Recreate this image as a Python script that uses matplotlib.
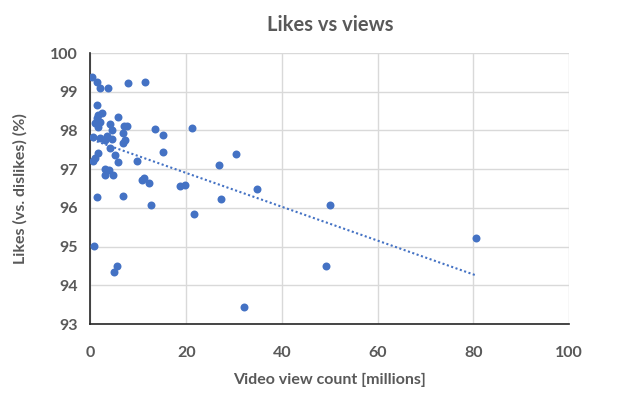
import numpy as np
import matplotlib.pyplot as plt

plt.rcParams['font.family'] = ['Lato', 'DejaVu Sans']

# video views (millions) and like ratio (%)
views = [0.42, 1.30, 2.09, 3.66, 7.77, 11.39, 1.30, 1.63, 2.51, 1.30,
         5.81, 1.99, 0.94, 4.08, 1.50, 7.06, 7.57, 4.43, 13.48, 21.11,
         0.59, 1.99, 3.03, 3.45, 4.49, 6.85, 7.31, 6.85, 4.08, 15.21,
         1.63, 0.94, 0.59, 5.12, 5.81, 9.66, 15.15, 30.47, 26.79, 3.03,
         3.82, 2.93, 4.70, 10.70, 11.18, 12.23, 18.70, 19.85, 34.86, 1.36,
         6.85, 12.75, 27.27, 21.63, 50.05, 0.73, 5.64, 4.91, 49.15, 32.02,
         80.56]
likes = [99.39, 99.25, 99.10, 99.10, 99.22, 99.25, 98.67, 98.40, 98.44, 98.32,
         98.35, 98.22, 98.18, 98.17, 98.10, 98.11, 98.11, 98.01, 98.03, 98.07,
         97.84, 97.80, 97.75, 97.86, 97.78, 97.93, 97.75, 97.67, 97.54, 97.87,
         97.41, 97.28, 97.22, 97.36, 97.19, 97.22, 97.45, 97.40, 97.11, 97.00,
         96.99, 96.86, 96.85, 96.72, 96.76, 96.65, 96.57, 96.58, 96.48, 96.29,
         96.30, 96.07, 96.23, 95.84, 96.08, 95.01, 94.50, 94.34, 94.50, 93.43,
         95.23]

x = np.array(views)
y = np.array(likes)
slope, intercept = np.polyfit(x, y, 1)
xs = np.array([x.min(), x.max()])

blue = '#4472C4'
grey = '#595959'

fig = plt.figure(figsize=(6.21, 3.98), dpi=100)
ax = fig.add_axes([0.1457, 0.1859, 0.7706, 0.6809])

ax.scatter(x, y, s=33, color=blue, zorder=3, linewidths=0)
ax.plot(xs, intercept + slope * xs, linestyle=(0, (1, 1.2)), color=blue,
        linewidth=1.5, zorder=2)

ax.set_xlim(0, 100)
ax.set_ylim(93, 100)
ax.set_xticks(range(0, 101, 20))
ax.set_yticks(range(93, 101))
ax.grid(True, color='#d9d9d9', linewidth=1)
ax.set_axisbelow(True)
for side in ['top', 'right']:
    ax.spines[side].set_visible(False)
ax.spines['left'].set_color('#262626')
ax.spines['bottom'].set_color('#262626')
ax.spines['left'].set_linewidth(1.2)
ax.spines['bottom'].set_linewidth(1.2)
ax.tick_params(length=0, labelsize=11.5, labelcolor=grey)
ax.tick_params(axis='x', pad=16)
ax.tick_params(axis='y', pad=9)
for lab in ax.get_xticklabels() + ax.get_yticklabels():
    lab.set_fontweight('bold')

ax.set_title('Likes vs views', fontsize=14.5, fontweight='bold', color=grey, pad=16)
ax.set_xlabel('Video view count [millions]', fontsize=11.5, fontweight='bold',
              color=grey, labelpad=9)
ax.set_ylabel('Likes (vs. dislikes) (%)', fontsize=11.5, fontweight='bold',
              color=grey, labelpad=16)

fig.savefig('out.png', dpi=100)
